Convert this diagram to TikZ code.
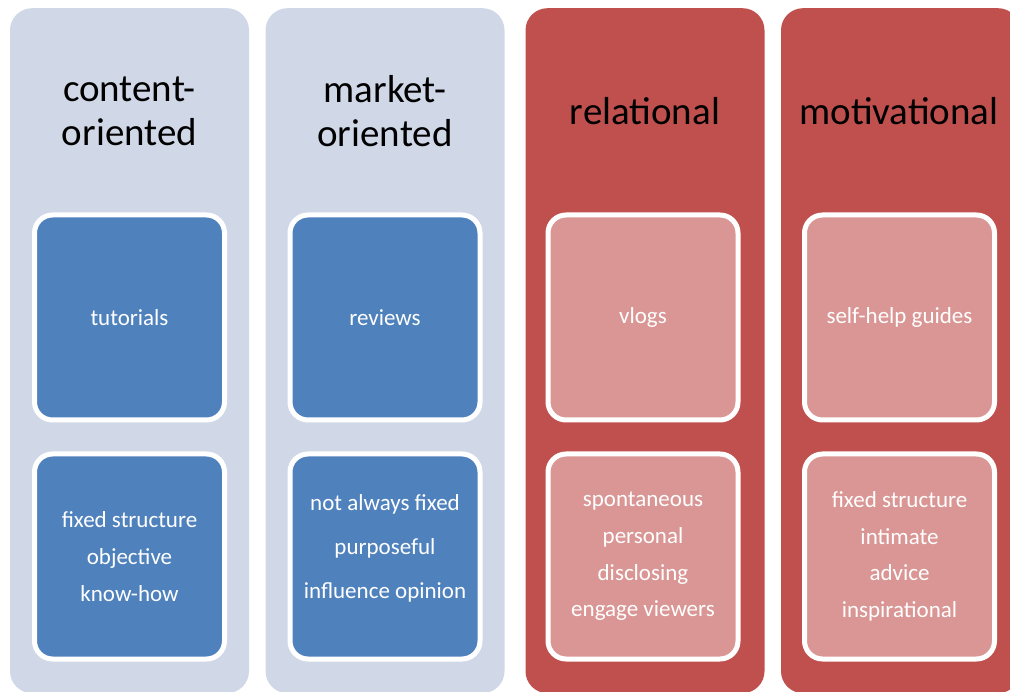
\documentclass[tikz,border=0pt]{standalone}
\usepackage{fontspec}
\setmainfont{Carlito}
\usetikzlibrary{positioning}
\definecolor{paleBlue}{RGB}{208,216,232}
\definecolor{midBlue}{RGB}{79,129,189}
\definecolor{deepRed}{RGB}{192,80,77}
\definecolor{paleRed}{RGB}{217,150,148}

\begin{document}
\begin{tikzpicture}[
    x=1pt, y=-1pt,
    node distance=29pt,
    groupColumn/.style={
        rectangle, rounded corners=22pt,
        minimum width=239pt,
        minimum height=685pt,
        inner sep=0pt, anchor=north
    },
    groupTitle/.style={
        font=\fontsize{39}{44}\selectfont,
        align=center, text=black
    },
    itemBox/.style={
        rectangle, draw=white, line width=5pt, rounded corners=18pt,
        minimum width=190pt,
        minimum height=205pt,
        font=\fontsize{23}{36.7}\selectfont,
        align=center, text=white
    }
]
\useasboundingbox (0,0) rectangle (1010,692);
\clip (0,0) rectangle (1010,692);

% columns
\node[groupColumn, fill=paleBlue] (colContent) at (129.5,8) {};
\node[groupColumn, fill=paleBlue] (colMarket) at (385,8) {};
\node[groupColumn, fill=deepRed] (colRelational) at (645,8) {};
\node[groupColumn, fill=deepRed] (colMotivational) at (900.5,8) {};

% titles
\node[groupTitle] (titleContent) at (129.5,111) {content-\\oriented};
\node[groupTitle] (titleMarket) at (385,111) {market-\\oriented};
\node[groupTitle] (titleRelational) at (645,111) {relational};
\node[groupTitle] (titleMotivational) at (899,111) {motivational};

% upper boxes
\node[itemBox, fill=midBlue] (tutorials) at (129.5,317.5) {tutorials};
\node[itemBox, fill=midBlue] (reviews) at (385,317.5) {reviews};
\node[itemBox, fill=paleRed] (vlogs) at (643,317.5) {vlogs};
\node[itemBox, fill=paleRed] (guides) at (899.5,317.5) {self-help guides};

% lower boxes
\node[itemBox, fill=midBlue, below=of tutorials] (traitsContent)
    {fixed structure\\objective\\know-how};
\node[itemBox, fill=midBlue, below=of reviews,
    font=\fontsize{23}{44}\selectfont] (traitsMarket)
    {not always fixed\\purposeful\\influence opinion\\[-24pt]};
\node[itemBox, fill=paleRed, below=of vlogs] (traitsRelational)
    {spontaneous\\personal\\disclosing\\engage viewers};
\node[itemBox, fill=paleRed, below=of guides] (traitsMotivational)
    {fixed structure\\intimate\\advice\\inspirational};
\end{tikzpicture}
\end{document}
